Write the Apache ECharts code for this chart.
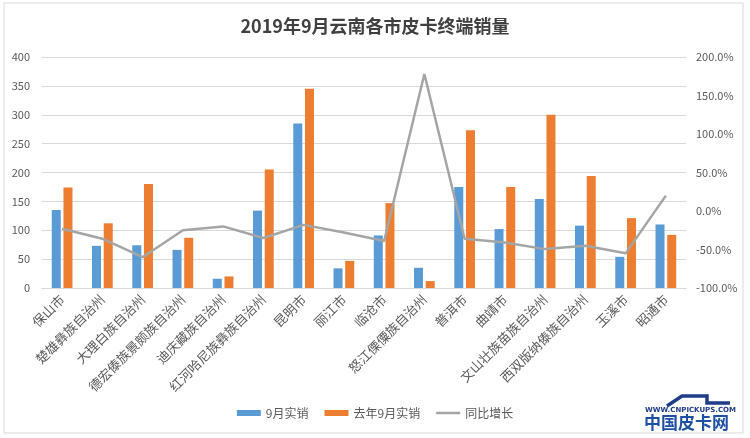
<!DOCTYPE html>
<html>
<head>
<meta charset="utf-8">
<script src="https://cdn.jsdelivr.net/npm/echarts@6/dist/echarts.min.js"></script>
<style>html,body{margin:0;padding:0;background:#fff}#c{width:750px;height:438px}</style>
</head>
<body>
<div id="c"></div>
<script>
var categories = ['保山市','楚雄彝族自治州','大理白族自治州','德宏傣族景颇族自治州','迪庆藏族自治州','红河哈尼族彝族自治州','昆明市','丽江市','临沧市','怒江傈僳族自治州','普洱市','曲靖市','文山壮族苗族自治州','西双版纳傣族自治州','玉溪市','昭通市'];
var salesSep2019 = [135, 73, 74, 66, 16, 134, 285, 34, 91, 35, 175, 102, 154, 108, 54, 110];
var salesSep2018 = [174, 112, 180, 87, 20, 205, 345, 47, 147, 12, 273, 175, 300, 194, 121, 92];
var yoyGrowth = [-23, -36, -60, -25, -20, -35, -18, -28, -39, 178, -36, -41, -49.5, -45, -55, 20];
var leftTicks = {min: 0, max: 400, interval: 50};
var rightTicks = {min: -100, max: 200, interval: 50};

var chart = echarts.init(document.getElementById('c'), null, {renderer: 'canvas'});
var txt = '#595959';
var font = '"Noto Sans CJK SC", "Noto Sans", sans-serif';
var logoBlue = '#1F3C88';
chart.setOption({
  animation: false,
  textStyle: {fontFamily: font},
  title: {
    text: '2019年9月云南各市皮卡终端销量',
    left: 'center', top: 12,
    textStyle: {fontSize: 18, fontWeight: 'bold', color: '#404040', fontFamily: font}
  },
  legend: {
    bottom: 14, left: 'center', itemGap: 16,
    itemWidth: 24, itemHeight: 6,
    textStyle: {color: txt, fontSize: 12, fontFamily: font},
    data: [
      {name: '9月实销', icon: 'rect'},
      {name: '去年9月实销', icon: 'rect'},
      {name: '同比增长', icon: 'path://M0,0 L24,0 L24,2.5 L0,2.5 Z'}
    ]
  },
  graphic: [
    {type: 'rect', z: -1, shape: {x: 4, y: 3, width: 739, height: 430},
     style: {fill: 'none', stroke: '#D9D9D9', lineWidth: 1}},
    {type: 'polyline', shape: {points: [[667, 406], [682, 396], [707, 396], [707, 403], [730, 403]]},
     style: {fill: 'none', stroke: logoBlue, lineWidth: 3.5}},
    {type: 'text', left: 645, top: 407,
     style: {text: 'WWW.CNPICKUPS.COM', fill: logoBlue, font: 'bold 7px "DejaVu Sans", sans-serif'}},
    {type: 'text', left: 644, top: 414,
     style: {text: '中国皮卡网', fill: '#1D4FA3', font: 'bold 17px "Noto Sans CJK SC", sans-serif'}}
  ],
  grid: {left: 42, right: 64, top: 57, bottom: 150, containLabel: false},
  xAxis: {
    type: 'category', data: categories,
    axisLine: {lineStyle: {color: '#D9D9D9'}},
    axisTick: {show: false},
    axisLabel: {rotate: 45, color: txt, fontSize: 13, interval: 0, margin: 9, fontFamily: font}
  },
  yAxis: [
    {
      type: 'value', min: leftTicks.min, max: leftTicks.max, interval: leftTicks.interval,
      axisLine: {show: false}, axisTick: {show: false},
      axisLabel: {color: txt, fontSize: 11, margin: 12},
      splitLine: {lineStyle: {color: '#D9D9D9'}}
    },
    {
      type: 'value', min: rightTicks.min, max: rightTicks.max, interval: rightTicks.interval,
      axisLine: {show: false}, axisTick: {show: false},
      axisLabel: {color: txt, fontSize: 11, margin: 10, formatter: function (v) { return v.toFixed(1) + '%'; }},
      splitLine: {show: false}
    }
  ],
  series: [
    {name: '9月实销', type: 'bar', data: salesSep2019, barWidth: 9, barGap: '30%',
     itemStyle: {color: '#5B9BD5'}},
    {name: '去年9月实销', type: 'bar', data: salesSep2018, barWidth: 9,
     itemStyle: {color: '#ED7D31'}},
    {name: '同比增长', type: 'line', yAxisIndex: 1, data: yoyGrowth,
     symbol: 'none', lineStyle: {color: '#A5A5A5', width: 2.5}, itemStyle: {color: '#A5A5A5'}}
  ]
});
</script>
</body>
</html>
